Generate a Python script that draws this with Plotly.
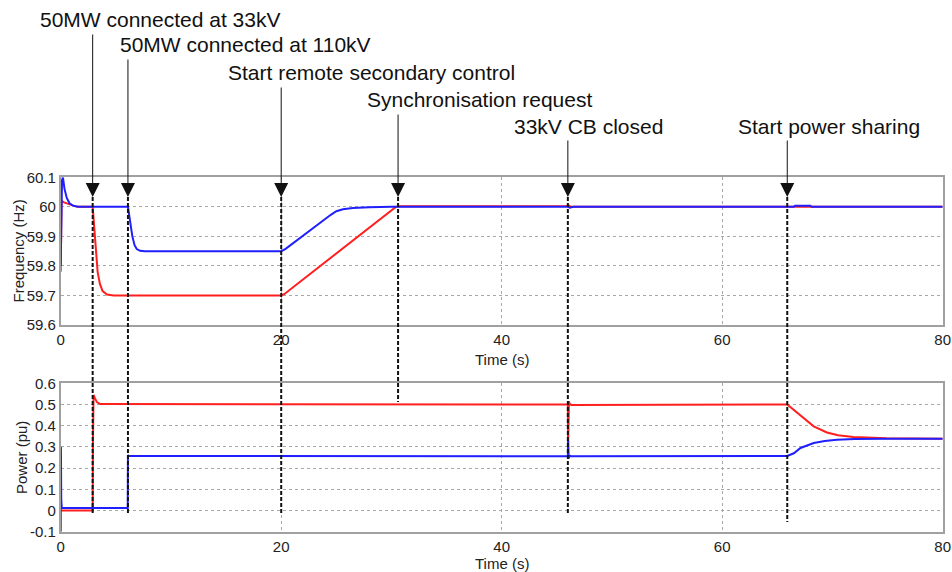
import plotly.graph_objects as go

# ---------------- data ----------------
# Frequency (Hz)
t_freq_red = [0, 0.08, 0.3, 0.8, 1.5, 2.9, 3.05, 3.2, 3.35, 3.55, 3.8, 4.2, 4.8,
              20.0, 20.3, 30.4, 30.8, 40, 45.9, 46.05, 46.3, 80]
freq_red = [59.78, 60.02, 60.015, 60.008, 60.0, 60.0, 59.93, 59.85, 59.78, 59.74, 59.715, 59.703, 59.70,
            59.70, 59.705, 60.0, 60.002, 60.002, 60.003, 60.006, 60.0, 60.0]

t_freq_blue = [0, 0.12, 0.2, 0.35, 0.55, 0.8, 1.1, 1.6, 6.1, 6.3, 6.5, 6.7, 6.9, 7.2, 7.6,
               20.0, 20.4, 24.5, 25.0, 25.6, 26.5, 28, 30, 46.0, 46.2, 46.5, 66.5, 66.6, 68.0, 68.1, 80]
freq_blue = [59.8, 60.09, 60.1, 60.06, 60.03, 60.012, 60.004, 60.0, 60.0, 59.95, 59.9, 59.87, 59.857, 59.851, 59.85,
             59.85, 59.858, 59.973, 59.985, 59.992, 59.996, 59.999, 60.0, 60.0, 59.997, 60.0, 60.0, 60.004, 60.004, 60.0, 60.0]

# Power (pu)
t_pow_red = [0, 2.9, 2.92, 2.98, 3.1, 3.3, 3.6, 46.0, 46.02, 46.05, 46.1, 46.15, 46.3,
             65.9, 66.6, 67.4, 68.3, 69.5, 70.5, 71.9, 74.9, 80]
pow_red = [0.0, 0.0, 0.3, 0.545, 0.53, 0.51, 0.502, 0.5, 0.3, 0.45, 0.515, 0.505, 0.498,
           0.5, 0.47, 0.435, 0.397, 0.368, 0.355, 0.347, 0.341, 0.339]

t_pow_blue = [0, 0.02, 0.05, 0.1, 6.08, 6.1, 6.15, 46.0, 46.02, 46.08, 46.15, 46.3,
              65.9, 66.5, 67.1, 68.3, 69.3, 70.4, 72.0, 75.0, 80]
pow_blue = [-0.1, 0.3, 0.05, 0.012, 0.012, 0.262, 0.258, 0.256, 0.333, 0.245, 0.258, 0.256,
            0.257, 0.27, 0.295, 0.318, 0.328, 0.334, 0.337, 0.338, 0.338]

# events
event_times = [2.9, 6.1, 20.0, 30.6, 46.0, 65.9]
event_labels = ["50MW connected at 33kV", "50MW connected at 110kV", "Start remote secondary control",
                "Synchronisation request", "33kV CB closed", "Start power sharing"]

# ticks
x_ticks = [0, 20, 40, 60, 80]
x_ticktext = ["0", "20", "40", "60", "80"]
freq_ticks = [59.6, 59.7, 59.8, 59.9, 60.0, 60.1]
freq_ticktext = ["59.6", "59.7", "59.8", "59.9", "60", "60.1"]
pow_ticks = [-0.1, 0, 0.1, 0.2, 0.3, 0.4, 0.5, 0.6]
pow_ticktext = ["-0.1", "0", "0.1", "0.2", "0.3", "0.4", "0.5", "0.6"]

# ---------------- layout geometry (pixels) ----------------
W, H = 952, 572
label_left_px = [38, 118, 226, 365, 512, 736]
label_y_px = [19, 45, 73, 99, 126, 126]
arrow_start_px = [33, 58, 86, 113, 139, 139]
arrow_tip_px = 197
dash_end_px = [515, 515, 513, 402, 514, 522]

RED = "#ff1f1f"
BLUE = "#1f1fff"
FONT = "Liberation Sans, Arial, sans-serif"

def px_y(p):
    return 1 - p / H

fig = go.Figure()
fig.add_trace(go.Scatter(x=t_freq_red, y=freq_red, mode="lines", line=dict(color=RED, width=2),
                         xaxis="x", yaxis="y", showlegend=False))
fig.add_trace(go.Scatter(x=t_freq_blue, y=freq_blue, mode="lines", line=dict(color=BLUE, width=2),
                         xaxis="x", yaxis="y", showlegend=False))
fig.add_trace(go.Scatter(x=t_pow_red, y=pow_red, mode="lines", line=dict(color=RED, width=2),
                         xaxis="x2", yaxis="y2", showlegend=False))
fig.add_trace(go.Scatter(x=t_pow_blue, y=pow_blue, mode="lines", line=dict(color=BLUE, width=2),
                         xaxis="x2", yaxis="y2", showlegend=False))

axis_common = dict(showline=True, mirror=True, linecolor="#a0a0a0", linewidth=1.6,
                   showgrid=True, gridcolor="#a8a8a8", griddash="dot", gridwidth=1,
                   zeroline=False, ticks="", automargin=False,
                   tickfont=dict(family=FONT, size=15, color="#222222"))

xdom = [60.7 / W, 942.7 / W]
fig.update_layout(
    width=W, height=H, margin=dict(l=0, r=0, t=0, b=0, pad=0),
    paper_bgcolor="white", plot_bgcolor="white",
    font=dict(family=FONT, color="#111111"),
    xaxis=dict(domain=xdom, range=[0, 80], tickvals=x_ticks, ticktext=x_ticktext, anchor="y", **axis_common),
    yaxis=dict(domain=[px_y(325), px_y(177.3)], range=[59.6, 60.1], tickvals=freq_ticks,
               ticktext=freq_ticktext, anchor="x", **axis_common),
    xaxis2=dict(domain=xdom, range=[0, 80], tickvals=x_ticks, ticktext=x_ticktext, anchor="y2", **axis_common),
    yaxis2=dict(domain=[px_y(531.7), px_y(383.3)], range=[-0.1, 0.6], tickvals=pow_ticks,
                ticktext=pow_ticktext, anchor="x2", **axis_common),
)

annotations = []
shapes = []
tip_val = 60.1 - (arrow_tip_px - 177.3) / (325 - 177.3) * 0.5
for t, lab, lx, ly, a0, de in zip(event_times, event_labels, label_left_px, label_y_px,
                                   arrow_start_px, dash_end_px):
    annotations.append(dict(text=lab, xref="paper", yref="paper", x=lx / W, y=px_y(ly),
                            xanchor="left", yanchor="middle", showarrow=False,
                            font=dict(family=FONT, size=21, color="#111111")))
    annotations.append(dict(text="", xref="x", yref="y", x=t, y=tip_val, ax=0, ay=a0 - arrow_tip_px,
                            showarrow=True, arrowhead=2, arrowsize=2.8, arrowwidth=1,
                            arrowcolor="#111111", standoff=0, startstandoff=0))
    shapes.append(dict(type="line", xref="x", yref="paper", x0=t, x1=t,
                       y0=px_y(arrow_tip_px), y1=px_y(de),
                       line=dict(color="#111111", width=2, dash="4px,2px")))

title_font = dict(family=FONT, size=15, color="#222222")
annotations += [
    dict(text="Frequency (Hz)", xref="paper", yref="paper", x=18.5 / W, y=px_y(251), textangle=-90,
         showarrow=False, xanchor="center", yanchor="middle", font=title_font),
    dict(text="Power (pu)", xref="paper", yref="paper", x=21.5 / W, y=px_y(457.5), textangle=-90,
         showarrow=False, xanchor="center", yanchor="middle", font=title_font),
    dict(text="Time (s)", xref="paper", yref="paper", x=501.7 / W, y=px_y(359),
         showarrow=False, xanchor="center", yanchor="middle", font=title_font),
    dict(text="Time (s)", xref="paper", yref="paper", x=501.7 / W, y=px_y(563),
         showarrow=False, xanchor="center", yanchor="middle", font=title_font),
]
fig.update_layout(annotations=annotations, shapes=shapes)

fig.write_html("out.html")
